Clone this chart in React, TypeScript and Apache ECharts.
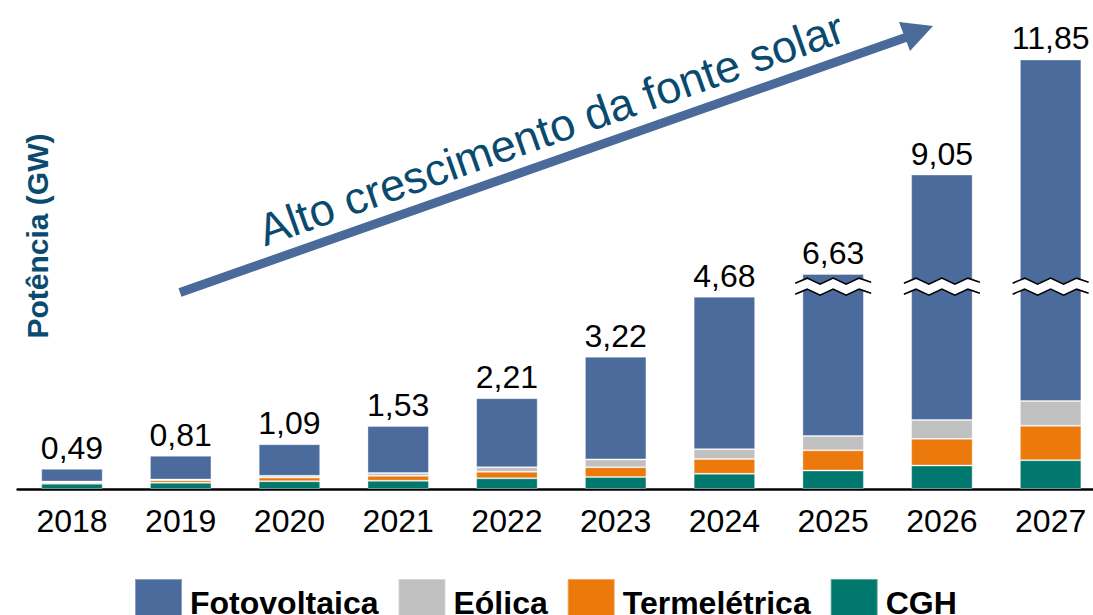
import React, { useEffect, useRef } from "react";
import * as echarts from "echarts";

const years = ["2018", "2019", "2020", "2021", "2022", "2023", "2024", "2025", "2026", "2027"];
const cgh = [0.13, 0.15, 0.19, 0.2, 0.26, 0.29, 0.37, 0.45, 0.57, 0.7];
const termeletrica = [0.03, 0.06, 0.09, 0.12, 0.16, 0.24, 0.36, 0.49, 0.65, 0.84];
const eolica = [0.02, 0.02, 0.04, 0.07, 0.11, 0.19, 0.24, 0.35, 0.46, 0.6];
const fotovoltaica = [0.31, 0.58, 0.77, 1.14, 1.68, 2.5, 3.71, 5.34, 7.37, 9.71];
const totals = [0.49, 0.81, 1.09, 1.53, 2.21, 3.22, 4.68, 6.63, 9.05, 11.85];
const brokenYears = ["2025", "2026", "2027"];
const breakStart = 4.85;
const breakEnd = 6.25;
const legendOrder = ["Fotovoltaica", "Eólica", "Termelétrica", "CGH"];

const FONT = "'Liberation Sans', Arial, sans-serif";
const C_BLUE = "#4b6b9c";
const C_GRAY = "#c0c0c0";
const C_ORANGE = "#eb790c";
const C_TEAL = "#00786e";

const zig = [
  [-38, 2],
  [-26, -3],
  [-13, 3],
  [0, -3],
  [13, 3],
  [26, -3],
  [38, 1],
];

export default function App() {
  const ref = useRef<HTMLDivElement>(null);

  useEffect(() => {
    if (!ref.current) return;
    const chart = echarts.init(ref.current, undefined, { renderer: "svg" });

    const barSeries = (name: string, data: number[], color: string, withLabel = false) => ({
      name,
      type: "bar",
      stack: "total",
      barWidth: 61.5,
      data,
      itemStyle: { color, borderColor: "rgba(255,255,255,0.35)", borderWidth: 1 },
      label: withLabel
        ? {
            show: true,
            position: "top",
            distance: 5,
            fontSize: 32,
            fontFamily: FONT,
            color: "#000",
            formatter: (p: any) => totals[p.dataIndex].toFixed(2).replace(".", ","),
          }
        : { show: false },
      emphasis: { disabled: true },
    });

    const option: any = {
      animation: false,
      textStyle: { fontFamily: FONT },
      grid: { left: 17.6, right: 0, top: 53.3, bottom: 126 },
      xAxis: {
        type: "category",
        data: years,
        axisLine: { show: true, lineStyle: { color: "#000", width: 2.5 } },
        axisTick: { show: false },
        axisLabel: { fontSize: 32, color: "#000", margin: 16, fontFamily: FONT },
      },
      yAxis: {
        type: "value",
        min: 0,
        max: 12,
        breaks: [{ start: breakStart, end: breakEnd, gap: 0 }],
        breakArea: { show: false },
        axisLine: { show: false },
        axisTick: { show: false },
        axisLabel: { show: false },
        splitLine: { show: false },
      },
      legend: {
        data: legendOrder,
        left: 134,
        top: 578,
        padding: 0,
        icon: "rect",
        itemWidth: 47,
        itemHeight: 47,
        itemGap: 19,
        selectedMode: false,
        textStyle: {
          fontSize: 32,
          fontWeight: "bold",
          color: "#000",
          fontFamily: FONT,
          padding: [0, 0, 0, 3],
        },
      },
      graphic: [
        {
          type: "text",
          x: 37,
          y: 236,
          rotation: Math.PI / 2,
          style: {
            text: "Potência (GW)",
            fontSize: 30,
            fontWeight: "bold",
            fontFamily: FONT,
            fill: "#0b4a6f",
            align: "center",
            verticalAlign: "middle",
          },
        },
        {
          type: "line",
          shape: { x1: 180, y1: 292.5, x2: 907, y2: 37 },
          style: { stroke: "#4a6a9a", lineWidth: 9, lineCap: "butt" },
        },
        {
          type: "polygon",
          shape: {
            points: [
              [933, 26],
              [899, 22],
              [910, 51],
            ],
          },
          style: { fill: "#4a6a9a" },
        },
        {
          type: "text",
          x: 551,
          y: 129,
          rotation: (19.45 * Math.PI) / 180,
          style: {
            text: "Alto crescimento da fonte solar",
            fontSize: 45,
            fontFamily: FONT,
            fill: "#0b4a6f",
            align: "center",
            verticalAlign: "middle",
          },
        },
      ],
      series: [
        barSeries("CGH", cgh, C_TEAL),
        barSeries("Termelétrica", termeletrica, C_ORANGE),
        barSeries("Eólica", eolica, C_GRAY),
        barSeries("Fotovoltaica", fotovoltaica, C_BLUE, true),
        {
          type: "custom",
          name: "break",
          z: 5,
          silent: true,
          data: brokenYears.map((y) => [y, breakStart]),
          renderItem: (params: any, api: any) => {
            const c = api.coord([api.value(0), api.value(1)]);
            const cx = c[0];
            const cy = c[1];
            const up = zig.map((p) => [cx + p[0], cy - 8.5 + p[1]]);
            const lo = zig.map((p) => [cx + p[0], cy + 2.5 + p[1]]);
            return {
              type: "group",
              children: [
                {
                  type: "polygon",
                  shape: { points: up.concat(lo.slice().reverse()) },
                  style: { fill: "#fff" },
                },
                {
                  type: "polyline",
                  shape: { points: up },
                  style: { stroke: "#000", lineWidth: 1.6, fill: null },
                },
                {
                  type: "polyline",
                  shape: { points: lo },
                  style: { stroke: "#000", lineWidth: 1.6, fill: null },
                },
              ],
            };
          },
        },
      ],
    };

    chart.setOption(option);
    return () => chart.dispose();
  }, []);

  return (
    <div
      style={{ position: "absolute", left: 0, top: 0, width: 1093, height: 615, overflow: "hidden", background: "#fff" }}
    >
      <div ref={ref} style={{ width: 1105.2, height: 615 }} />
    </div>
  );
}
